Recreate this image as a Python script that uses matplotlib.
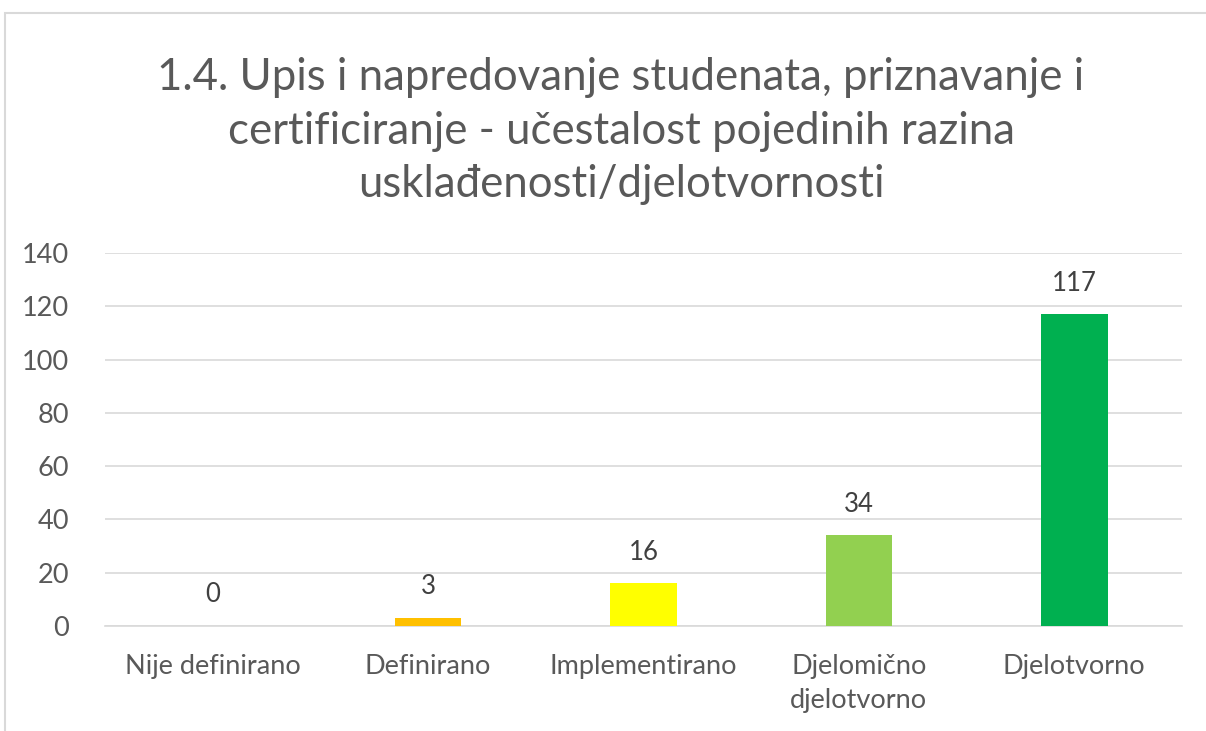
import matplotlib.pyplot as plt
from matplotlib.patches import Rectangle

categories = ['Nije definirano', 'Definirano', 'Implementirano', 'Djelomično\ndjelotvorno', 'Djelotvorno']
values = [0, 3, 16, 34, 117]
colors = ['#FFC000', '#FFC000', '#FFFF00', '#92D050', '#00B050']
yticks = [0, 20, 40, 60, 80, 100, 120, 140]
title = '1.4. Upis i napredovanje studenata, priznavanje i\ncertificiranje - učestalost pojedinih razina\nusklađenosti/djelotvornosti'

plt.rcParams['font.family'] = ['Lato', 'DejaVu Sans']

fig = plt.figure(figsize=(12.06, 7.31), dpi=100)
fig.patches.append(Rectangle((5 / 1206, -0.1), 1.2, 1 - 13 / 731 + 0.1,
                             transform=fig.transFigure, fill=False,
                             edgecolor='#d9d9d9', linewidth=1.5))

ax = fig.add_axes([105 / 1206, 105 / 731, 1077 / 1206, 373 / 731])
x = range(len(categories))
bars = ax.bar(x, values, width=0.31, color=colors, zorder=3)
for xi, v in zip(x, values):
    ax.text(xi, v + 7, str(v), ha='center', va='bottom', fontsize=18.5, color='#404040')

ax.set_xlim(-0.5, len(categories) - 0.5)
ax.set_ylim(0, 140)
ax.set_yticks(yticks)
ax.set_xticks(list(x))
ax.set_xticklabels(categories, linespacing=1.45)
ax.tick_params(axis='y', labelsize=19.5, colors='#595959', length=0, pad=26)
ax.tick_params(axis='x', labelsize=19.5, colors='#595959', length=0, pad=20)
ax.grid(axis='y', color='#d9d9d9', linewidth=1.2, zorder=0)
for s in ['top', 'right', 'left']:
    ax.spines[s].set_visible(False)
ax.spines['bottom'].set_color('#d9d9d9')
ax.spines['bottom'].set_linewidth(1.2)

fig.text(621 / 1206, 1 - 131 / 731, title, ha='center', va='center',
         fontsize=31.5, color='#595959', linespacing=1.38)

fig.savefig('out.png', dpi=100)
